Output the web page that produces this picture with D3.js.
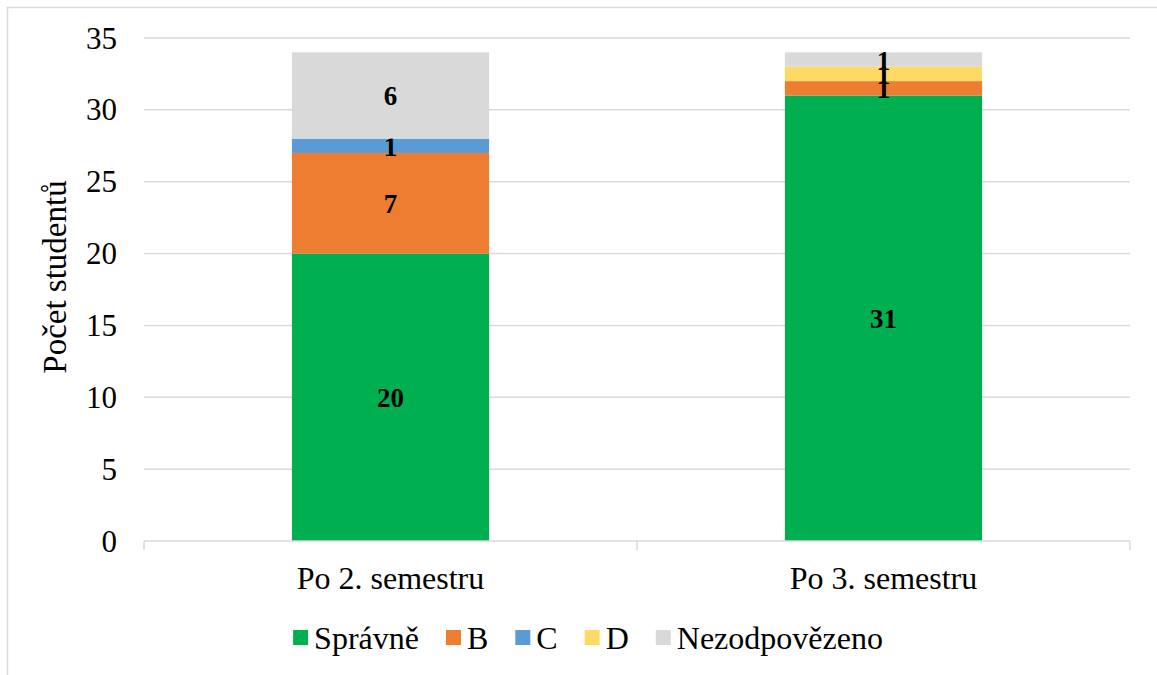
<!DOCTYPE html>
<html>
<head>
<meta charset="utf-8">
<script src="https://cdn.jsdelivr.net/npm/d3@7"></script>
<style>
  html, body { margin: 0; padding: 0; background: #fff; }
  svg { display: block; font-family: "Liberation Serif", "Times New Roman", serif; }
</style>
</head>
<body>
<svg id="chart" width="1157" height="675"></svg>
<script>
// Stacked bar chart: answers of students after the 2nd and 3rd semester
const categories = ["Po 2. semestru", "Po 3. semestru"];
const seriesNames = ["Správně", "B", "C", "D", "Nezodpovězeno"];
const seriesColors = ["#00b050", "#ed7d31", "#5b9bd5", "#ffd966", "#d9d9d9"];
const spravne = [20, 31];
const answerB = [7, 1];
const answerC = [1, 0];
const answerD = [0, 1];
const nezodpovezeno = [6, 1];
const yTicks = [0, 5, 10, 15, 20, 25, 30, 35];
const yTitle = "Počet studentů";

const seriesValues = [spravne, answerB, answerC, answerD, nezodpovezeno];
const rows = categories.map((c, i) => {
  const r = { category: c };
  seriesNames.forEach((s, j) => { r[s] = seriesValues[j][i]; });
  return r;
});

const svg = d3.select("#chart");
const W = 1157, H = 675;
const plot = { left: 144, right: 1130, top: 38, bottom: 541 };

// outer chart frame
svg.append("rect")
  .attr("x", 7.5).attr("y", 7.5)
  .attr("width", W).attr("height", H)
  .attr("fill", "none").attr("stroke", "#d9d9d9").attr("stroke-width", 1.5);

const x = d3.scaleBand().domain(categories).range([plot.left, plot.right])
  .paddingInner(0.6).paddingOuter(0.3);
const y = d3.scaleLinear().domain([0, 35]).range([plot.bottom, plot.top]);

// horizontal gridlines
svg.append("g").selectAll("line").data(yTicks.filter(t => t > 0)).join("line")
  .attr("x1", plot.left).attr("x2", plot.right)
  .attr("y1", d => y(d)).attr("y2", d => y(d))
  .attr("stroke", "#d9d9d9").attr("stroke-width", 1.5);

// y tick labels
svg.append("g").selectAll("text").data(yTicks).join("text")
  .attr("x", 117).attr("y", d => y(d))
  .attr("text-anchor", "end").attr("dominant-baseline", "central")
  .attr("font-size", 31).attr("fill", "#000")
  .text(d => d);

// y axis title
svg.append("text")
  .attr("transform", `translate(55, 277) rotate(-90)`)
  .attr("text-anchor", "middle").attr("dominant-baseline", "central")
  .attr("font-size", 33).attr("fill", "#000")
  .text(yTitle);

// stacked bars
const stack = d3.stack().keys(seriesNames)(rows);
const layers = svg.append("g").selectAll("g").data(stack).join("g")
  .attr("fill", (d, i) => seriesColors[i]);
layers.selectAll("rect").data(d => d).join("rect")
  .attr("x", d => x(d.data.category))
  .attr("width", x.bandwidth())
  .attr("y", d => y(d[1]))
  .attr("height", d => y(d[0]) - y(d[1]));

// category axis line and tick marks
const axisG = svg.append("g");
axisG.append("line")
  .attr("x1", plot.left).attr("x2", plot.right)
  .attr("y1", plot.bottom).attr("y2", plot.bottom)
  .attr("stroke", "#d9d9d9").attr("stroke-width", 1.5);
const step = (plot.right - plot.left) / categories.length;
axisG.selectAll("line.tick").data(d3.range(categories.length + 1)).join("line")
  .attr("class", "tick")
  .attr("x1", i => plot.left + i * step).attr("x2", i => plot.left + i * step)
  .attr("y1", plot.bottom).attr("y2", plot.bottom + 9)
  .attr("stroke", "#d9d9d9").attr("stroke-width", 1.5);

// category labels
svg.append("g").selectAll("text").data(categories).join("text")
  .attr("x", d => x(d) + x.bandwidth() / 2).attr("y", 578)
  .attr("text-anchor", "middle").attr("dominant-baseline", "central")
  .attr("font-size", 32).attr("fill", "#000")
  .text(d => d);

// data labels (zero values are not labelled)
layers.each(function (layer) {
  d3.select(this).selectAll("text").data(layer.filter(d => d[1] - d[0] > 0)).join("text")
    .attr("x", d => x(d.data.category) + x.bandwidth() / 2)
    .attr("y", d => (y(d[0]) + y(d[1])) / 2 + 1)
    .attr("text-anchor", "middle").attr("dominant-baseline", "central")
    .attr("font-size", 27).attr("font-weight", "bold").attr("fill", "#000")
    .text(d => d[1] - d[0]);
});

// legend
const legend = svg.append("g");
const items = legend.selectAll("g").data(seriesNames).join("g");
items.append("rect")
  .attr("width", 15).attr("height", 15)
  .attr("fill", (d, i) => seriesColors[i]);
items.append("text")
  .attr("x", 21).attr("y", 8)
  .attr("dominant-baseline", "central")
  .attr("font-size", 32).attr("fill", "#000")
  .text(d => d);
const gap = 27;
let cursor = 0;
const offsets = [];
items.each(function () {
  offsets.push(cursor);
  cursor += this.getBBox().width + gap;
});
const total = cursor - gap;
const startX = 289 + (598 - total) / 2;
items.attr("transform", (d, i) => `translate(${startX + offsets[i]}, 630)`);
</script>
</body>
</html>
